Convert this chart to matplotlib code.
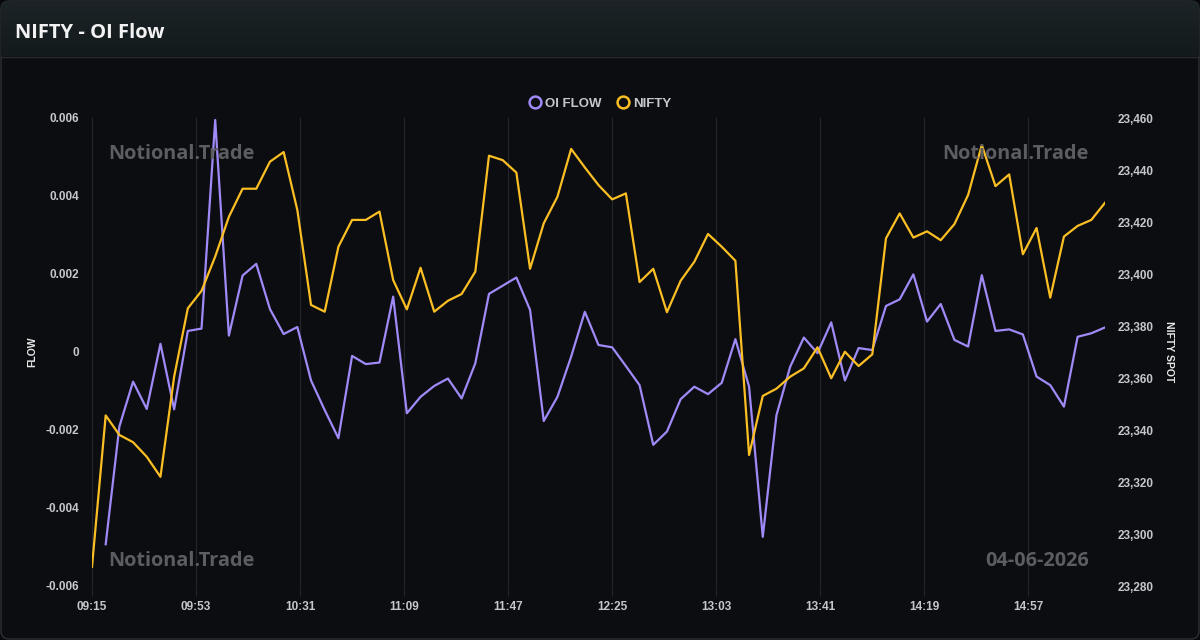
import numpy as np
import matplotlib
matplotlib.use("Agg")
import matplotlib.pyplot as plt
from matplotlib.lines import Line2D
from matplotlib.patches import FancyBboxPatch

# 5-minute bars from 09:15 to 15:25
minutes = np.arange(75) * 5
tick_minutes = np.arange(0, 343, 38)
tick_labels = ["09:15", "09:53", "10:31", "11:09", "11:47",
               "12:25", "13:03", "13:41", "14:19", "14:57"]

nifty = [
    23287.4, 23345.6, 23338.1, 23335.3, 23329.7, 23322.0, 23360.5, 23386.8, 23393.5, 23406.7,
    23422.0, 23432.8, 23432.8, 23443.2, 23446.9, 23424.6, 23388.1, 23385.5, 23410.5, 23420.8,
    23420.8, 23424.0, 23397.7, 23386.4, 23402.4, 23385.5, 23389.7, 23392.3, 23400.9, 23445.5,
    23443.8, 23439.0, 23402.0, 23419.5, 23429.7, 23448.1, 23441.0, 23434.2, 23428.7, 23431.0,
    23396.9, 23402.0, 23385.3, 23397.4, 23404.7, 23415.4, 23410.5, 23405.1, 23330.4, 23353.1,
    23355.9, 23360.5, 23363.7, 23371.8, 23359.9, 23370.1, 23364.6, 23369.1, 23413.7, 23423.3,
    23414.0, 23416.4, 23413.0, 23419.2, 23430.4, 23449.6, 23433.8, 23438.3, 23407.6, 23417.7,
    23390.9, 23414.4, 23418.5, 23420.8, 23427.4,
]

# OI flow in units of 1e-3 (first bar has no value)
oi_flow_e3 = [
    np.nan, -4.93, -1.91, -0.76, -1.46, 0.21, -1.47, 0.54, 0.60, 5.95,
    0.42, 1.96, 2.26, 1.10, 0.46, 0.64, -0.73, -1.49, -2.21, -0.10,
    -0.31, -0.27, 1.42, -1.57, -1.15, -0.87, -0.68, -1.19, -0.29, 1.49,
    1.70, 1.91, 1.08, -1.77, -1.15, -0.12, 1.03, 0.18, 0.12, -0.36,
    -0.85, -2.38, -2.04, -1.21, -0.89, -1.08, -0.79, 0.33, -0.89, -4.74,
    -1.62, -0.38, 0.37, -0.03, 0.76, -0.73, 0.10, 0.05, 1.18, 1.35,
    1.99, 0.78, 1.23, 0.31, 0.14, 1.97, 0.54, 0.58, 0.45, -0.63,
    -0.85, -1.40, 0.39, 0.48, 0.63,
]
oi_flow = np.array(oi_flow_e3) / 1000.0

flow_ticks = [-0.006, -0.004, -0.002, 0, 0.002, 0.004, 0.006]
flow_tick_labels = ["-0.006", "-0.004", "-0.002", "0", "0.002", "0.004", "0.006"]
spot_ticks = np.arange(23280, 23461, 20)

BG = "#0c0d11"
OUTER = "#08090b"
PURPLE = "#a08af7"
YELLOW = "#fbbf24"
TICK = "#c4c7cc"
GRID = "#23262b"
WATERMARK = "#5c5d60"
TICK_FONT = ["Liberation Sans", "DejaVu Sans"]
HEAD_FONT = ["Open Sans", "DejaVu Sans"]

W, H = 1200, 640
fig = plt.figure(figsize=(12, 6.4), dpi=100, facecolor=OUTER)

# card background with rounded corners and a header gradient
bg = fig.add_axes([0, 0, 1, 1])
bg.set_xlim(0, W)
bg.set_ylim(H, 0)
bg.axis("off")
card = FancyBboxPatch((1, 1), W - 2, H - 2, boxstyle="round,pad=0,rounding_size=8",
                      facecolor=BG, edgecolor="#2b3034", lw=1)
bg.add_patch(card)
grad = np.linspace(0, 1, 56).reshape(-1, 1)
head = bg.imshow(grad, extent=(1, W - 1, 56, 1), cmap=matplotlib.colors.LinearSegmentedColormap
                 .from_list("hd", ["#1c2427", "#131a1c"]), aspect="auto", zorder=1)
head.set_clip_path(card)
bg.plot([1, W - 1], [56.5, 56.5], color="#262d30", lw=1, zorder=2)
bg.text(15, 33, "NIFTY - OI Flow", color="#f2f2f2", fontsize=14.5, fontweight="bold",
        family=HEAD_FONT, va="center", ha="left", zorder=3)

ax = fig.add_axes([92 / W, 1 - 586 / H, (1105 - 92) / W, 468 / H])
ax.set_facecolor("none")
ax2 = ax.twinx()

ax.plot(minutes, oi_flow, color=PURPLE, lw=1.6, zorder=3)
ax2.plot(minutes, nifty, color=YELLOW, lw=1.6, zorder=3)

ax.set_xlim(0, 370)
ax.set_ylim(-0.006, 0.006)
ax2.set_ylim(23280, 23460)

ax.set_xticks(tick_minutes)
ax.set_xticklabels(tick_labels)
ax.set_yticks(flow_ticks)
ax.set_yticklabels(flow_tick_labels)
ax2.set_yticks(spot_ticks)
ax2.set_yticklabels([f"{v:,}" for v in spot_ticks])

ax.grid(axis="x", color=GRID, lw=0.8)
for a in (ax, ax2):
    for s in a.spines.values():
        s.set_visible(False)
ax.tick_params(axis="y", colors=TICK, labelsize=8.5, length=0, pad=9)
ax.tick_params(axis="x", colors=GRID, labelcolor=TICK, labelsize=8.5, length=7,
               width=0.8, pad=4)
ax2.tick_params(axis="y", colors=TICK, labelsize=8.5, length=0, pad=9)
for lbl in ax.get_xticklabels() + ax.get_yticklabels() + ax2.get_yticklabels():
    lbl.set_fontweight("bold")
    lbl.set_family(TICK_FONT)

ax.set_ylabel("FLOW", color="#e8e8e8", fontsize=7.5, family=TICK_FONT,
              fontweight="bold", labelpad=6)
ax2.set_ylabel("NIFTY SPOT", color="#e8e8e8", fontsize=7.5, family=TICK_FONT,
               fontweight="bold", rotation=270, labelpad=15)

handles = [
    Line2D([], [], marker="o", ls="none", markerfacecolor="none", markeredgecolor=PURPLE,
           markeredgewidth=1.8, markersize=8.5, label="OI FLOW"),
    Line2D([], [], marker="o", ls="none", markerfacecolor="none", markeredgecolor=YELLOW,
           markeredgewidth=1.8, markersize=8.5, label="NIFTY"),
]
leg = fig.legend(handles=handles, loc="center", bbox_to_anchor=(598 / W, 1 - 104 / H),
                 ncol=2, frameon=False, prop={"family": TICK_FONT, "size": 9.5, "weight": "bold"},
                 handletextpad=0.0, columnspacing=0.9, handlelength=1.5)
for t in leg.get_texts():
    t.set_color(TICK)

wm = dict(color=WATERMARK, fontsize=14.3, fontweight="bold", family=HEAD_FONT, va="center")
fig.text(108 / W, 1 - 154 / H, "Notional.Trade", ha="left", **wm)
fig.text(1089 / W, 1 - 154 / H, "Notional.Trade", ha="right", **wm)
fig.text(108 / W, 1 - 561 / H, "Notional.Trade", ha="left", **wm)
fig.text(1089 / W, 1 - 561 / H, "04-06-2026", ha="right", **wm)

fig.savefig("out.png", dpi=100, facecolor=OUTER)
